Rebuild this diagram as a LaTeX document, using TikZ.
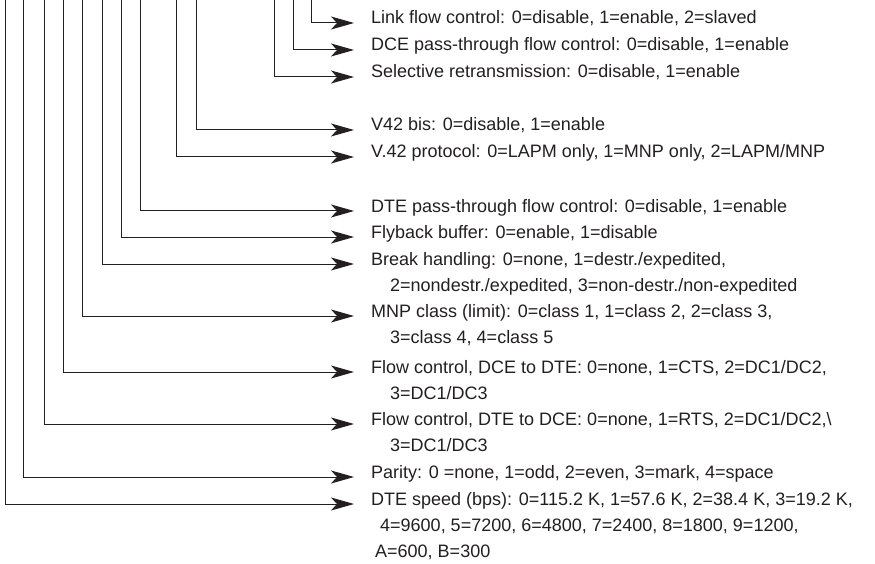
\documentclass[tikz,border=0pt]{standalone}
\usepackage{fontspec}
\setmainfont{Liberation Sans}
\usetikzlibrary{arrows.meta}
\definecolor{ink}{HTML}{231F20}
\begin{document}
\begin{tikzpicture}[x=1pt,y=-1pt,
  lead/.style={draw=ink, line width=1pt, -{Stealth[length=23pt,width=13pt,inset=6pt]}},
  lbl/.style={anchor=base west, inner sep=0pt, text=ink, font=\fontsize{18}{20}\selectfont}]
\useasboundingbox (0,0) rectangle (875,564);
\foreach \n/\x/\y in {lfc/311.7/23, dce/293.3/50, sel/274.3/77, vbis/196.7/130, vpro/176.7/157,
  dte/140.7/211, fly/121.7/237, brk/102.7/264, mnp/82/316, fdce/63.3/372, fdte/44.3/424,
  par/23.3/477, spd/5/504}{
  \coordinate (\n-top) at (\x,0);
  \coordinate (\n-tip) at (354,\y);
  \draw[lead] (\n-top) |- (\n-tip);
}
\node[lbl] (t-lfc) at (371,24) {Link flow control: 0=disable, 1=enable, 2=slaved};
\node[lbl] (t-dce) at (371,51) {DCE pass-through flow control: 0=disable, 1=enable};
\node[lbl] (t-sel) at (371,78) {Selective retransmission: 0=disable, 1=enable};
\node[lbl] (t-vbis) at (371,131) {V42 bis: 0=disable, 1=enable};
\node[lbl] (t-vpro) at (371,158) {V.42 protocol: 0=LAPM only, 1=MNP only, 2=LAPM/MNP};
\node[lbl] (t-dte) at (371,212) {DTE pass-through flow control: 0=disable, 1=enable};
\node[lbl] (t-fly) at (371,238) {Flyback buffer: 0=enable, 1=disable};
\node[lbl] (t-brk) at (371,265) {Break handling: 0=none, 1=destr./expedited,};
\node[lbl] (t-brk2) at (390,291) {2=nondestr./expedited, 3=non-destr./non-expedited};
\node[lbl] (t-mnp) at (371,317) {MNP class (limit): 0=class 1, 1=class 2, 2=class 3,};
\node[lbl] (t-mnp2) at (390,343) {3=class 4, 4=class 5};
\node[lbl] (t-fdce) at (371,373) {Flow control, DCE to DTE: 0=none, 1=CTS, 2=DC1/DC2,};
\node[lbl] (t-fdce2) at (390,399) {3=DC1/DC3};
\node[lbl] (t-fdte) at (371,425) {Flow control, DTE to DCE: 0=none, 1=RTS, 2=DC1/DC2,\textbackslash};
\node[lbl] (t-fdte2) at (390,451) {3=DC1/DC3};
\node[lbl] (t-par) at (371,478) {Parity: 0 =none, 1=odd, 2=even, 3=mark, 4=space};
\node[lbl] (t-spd) at (371,505) {DTE speed (bps): 0=115.2 K, 1=57.6 K, 2=38.4 K, 3=19.2 K,};
\node[lbl] (t-spd2) at (380,531) {4=9600, 5=7200, 6=4800, 7=2400, 8=1800, 9=1200,};
\node[lbl] (t-spd3) at (375,557) {A=600, B=300};
\end{tikzpicture}
\end{document}
